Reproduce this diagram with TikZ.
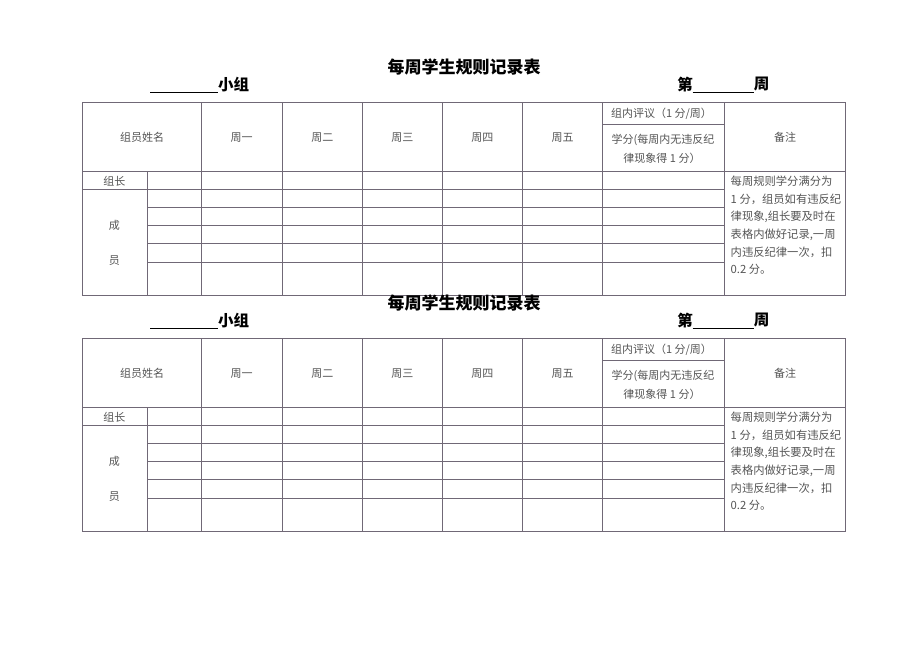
\documentclass[tikz,border=0pt]{standalone}
\usepackage{fontspec}
\newfontfamily\cjk{Noto Sans CJK SC}
\definecolor{tline}{RGB}{112,104,118}
\definecolor{tgray}{RGB}{85,85,85}
\begin{document}
\begin{tikzpicture}[x=1pt,y=-1pt,
  grid/.style={draw=tline, line width=0.9pt},
  cell/.style={font=\cjk\fontsize{11}{13}\selectfont, text=tgray, inner sep=0pt},
  note/.style={font=\cjk\fontsize{11.3}{13}\selectfont, text=tgray, inner sep=0pt, anchor=west},
  head/.style={font=\cjk\bfseries\fontsize{15.5}{17}\selectfont, inner sep=0pt},
  ttl/.style={font=\cjk\bfseries\fontsize{17}{19}\selectfont, inner sep=0pt},
  uline/.style={draw=black, line width=1pt}
]
\useasboundingbox[fill=white] (0,0) rectangle (920,651);
\foreach \i/\oy in {1/0,2/236}{
\begin{scope}[shift={(0,\oy)}]
  % headings
  \node[ttl] (title\i) at (464,67) {每周学生规则记录表};
  \node[head, anchor=west] (grp\i) at (218,84.5) {小组};
  \coordinate (gu\i) at (150,92);
  \draw[uline] (gu\i) -- (gu\i -| grp\i.west);
  \node[head] (di\i) at (685,84.5) {第};
  \node[head] (zhou\i) at (761.5,84.5) {周};
  \coordinate (wu\i) at (692.5,92);
  \draw[uline] (wu\i) -- (wu\i -| zhou\i.west);
  % grid
  \draw[grid] (82,102) rectangle (845.5,295);
  \draw[grid] (82,171.3) -- (845.5,171.3);
  \foreach \x in {201.3,282,362.7,442.7,522.5,602.7,724.3}{
    \draw[grid] (\x,102) -- (\x,295);
  }
  \draw[grid] (147.3,171.3) -- (147.3,295);
  \draw[grid] (82,189.3) -- (724.3,189.3);
  \foreach \y in {207.3,225.7,243.7,262}{
    \draw[grid] (147.3,\y) -- (724.3,\y);
  }
  \draw[grid] (602.7,124.7) -- (724.3,124.7);
  % header texts
  \node[cell] (name\i) at (142,137.5) {组员姓名};
  \node[cell] (mon\i) at (241.7,137.5) {周一};
  \node[cell] (tue\i) at (322.3,137.5) {周二};
  \node[cell] (wed\i) at (402.3,137.5) {周三};
  \node[cell] (thu\i) at (482.3,137.5) {周四};
  \node[cell] (fri\i) at (562.5,137.5) {周五};
  \node[cell] (eval\i) at (661.5,113.5) {组内评议（1 分/周）};
  \node[cell] (scoreA\i) at (663,140.3) {学分(每周内无违反纪};
  \node[cell] (scoreB\i) at (662,158.5) {律现象得 1 分）};
  \node[cell] (rem\i) at (785,137.5) {备注};
  \node[cell] (lead\i) at (114.3,181) {组长};
  \node[cell] (cheng\i) at (114.3,225.3) {成};
  \node[cell] (yuan\i) at (114.3,261) {员};
  % notes
  \node[note] (n1\i) at (730.5,181.3) {每周规则学分满分为};
  \node[note] (n2\i) at (730.5,199) {1 分，组员如有违反纪};
  \node[note] (n3\i) at (730.5,216.7) {律现象,组长要及时在};
  \node[note] (n4\i) at (730.5,234.4) {表格内做好记录,一周};
  \node[note] (n5\i) at (730.5,252) {内违反纪律一次，扣};
  \node[note] (n6\i) at (730.5,269.5) {0.2 分。};
\end{scope}
}
\end{tikzpicture}
\end{document}
